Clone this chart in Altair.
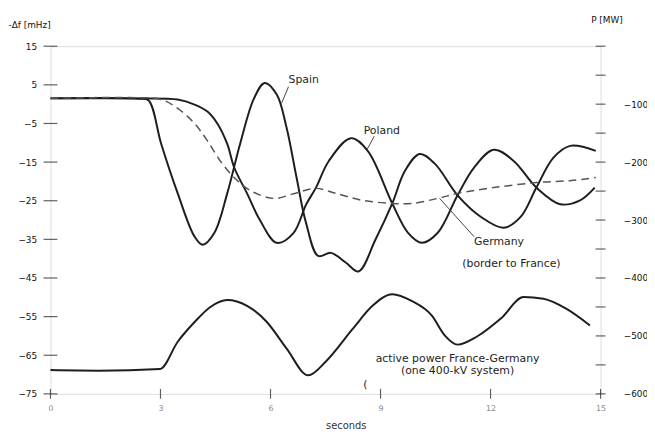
import altair as alt
import pandas as pd

# ---- data ----
spain_t = [0, 1.32, 2.4, 2.67, 3.02, 3.47, 3.93, 4.15, 4.47, 4.82, 5.17, 5.55, 5.84, 6.17, 6.44, 6.71, 6.97,
           7.3, 7.65, 8.05, 8.4, 8.86, 9.32, 9.67, 10.07, 10.48, 11.1, 11.74, 12.36, 12.82, 13.25, 13.71, 14.17, 14.87]
spain_f = [1.5, 1.6, 1.4, 1.0, -10.3, -23.1, -34.3, -36.4, -33.3, -23.1, -10.3, 1.5, 5.5, 2.5, -6.2, -19, -30.8,
           -39.3, -38.5, -41, -43.3, -35.1, -25.7, -17.2, -12.9, -15.4, -23.6, -29.2, -32, -29.2, -21.6, -13.9, -10.8, -12.1]

poland_t = [0, 2.4, 3.47, 3.93, 4.28, 4.55, 4.82, 5.01, 5.36, 5.71, 6.17, 6.63, 6.97, 7.24, 7.59, 8.19, 8.65,
            9.32, 9.75, 10.13, 10.56, 11.1, 11.55, 12.09, 12.63, 13.25, 13.9, 14.44, 14.84]
poland_f = [1.5, 1.5, 1.2, -0.1, -1.9, -5, -10.3, -16.4, -23.1, -30, -35.9, -33.3, -26, -21.6, -14.7, -8.8, -12.1,
            -25.7, -33.3, -35.9, -33.3, -23.6, -16.4, -11.8, -14.7, -21.6, -25.9, -24.9, -21.6]

germany_t = [0, 2.13, 3.02, 3.47, 3.93, 4.28, 4.63, 5.01, 5.44, 6.09, 6.63, 7.24, 7.78, 8.51, 9.32, 9.86,
             10.56, 11.1, 12.09, 13.25, 14.17, 14.87]
germany_f = [1.5, 1.7, 1.2, -1.1, -5, -9.5, -14.7, -19, -22.3, -24.4, -23.2, -21.8, -23.1, -24.9, -25.7, -25.7,
             -24.4, -23.1, -21.6, -20.3, -19.8, -19]

power_t = [0, 1.32, 2.99, 3.47, 3.93, 4.36, 4.82, 5.36, 5.9, 6.44, 7.03, 7.51, 8.24, 8.78, 9.32, 9.86, 10.4,
           10.75, 11.1, 11.63, 12.28, 12.9, 13.44, 14.06, 14.71]
power_p = [-559, -560, -557, -510, -476, -450, -438, -448, -476, -522, -568, -544, -488, -448, -428, -440, -465,
           -499, -515, -501, -470, -433, -436, -453, -482]

x_ticks = [0, 3, 6, 9, 12, 15]
left_ticks = [15, 5, -5, -15, -25, -35, -45, -55, -65, -75]
right_labels = [-100, -200, -300, -400, -500, -600]
right_ticks = [0, -50, -100, -150, -200, -250, -300, -350, -400, -450, -500, -550, -600]

label_text = ["Spain", "Poland", "Germany", "(border to France)"]
label_t = [6.49, 8.54, 11.55, 11.23]
label_f = [6.3, -7.0, -35.6, -41.5]

center_text = ["active power France-Germany", "(one 400-kV system)", "("]
center_t = [11.1, 11.1, 8.59]
center_f = [-66.0, -69.1, -72.7]

leader_t1 = [6.49, 8.83, 10.61]
leader_f1 = [4.5, -8.3, -24.4]
leader_t2 = [6.30, 8.64, 11.55]
leader_f2 = [0.2, -11.6, -34.3]

# ---- tables ----
solid_df = pd.concat([
    pd.DataFrame({"t": spain_t, "f": spain_f, "series": "Spain"}),
    pd.DataFrame({"t": poland_t, "f": poland_f, "series": "Poland"}),
])
germany_df = pd.DataFrame({"t": germany_t, "f": germany_f})
power_df = pd.DataFrame({"t": power_t, "f": power_p})
lt_df = pd.DataFrame({"f": left_ticks})
xt_df = pd.DataFrame({"t": x_ticks})
rt_df = pd.DataFrame({"f": right_ticks})
lab_df = pd.DataFrame({"t": label_t, "f": label_f, "txt": label_text})
cen_df = pd.DataFrame({"t": center_t, "f": center_f, "txt": center_text})
lead_df = pd.DataFrame({"t": leader_t1, "f": leader_f1, "t2": leader_t2, "f2": leader_f2})

FONT = "DejaVu Sans"
INK = "#1e1e1e"
CURVE = "catmull-rom"

x_scale = alt.Scale(domain=[0, 15], nice=False, zero=False)
yl_scale = alt.Scale(domain=[-75, 15], nice=False, zero=False)
yr_scale = alt.Scale(domain=[-600, 0], nice=False, zero=False)

x_axis = alt.Axis(values=x_ticks, title="seconds", grid=False, ticks=False, domain=False,
                  labelOverlap=False, labelFlush=False,
                  labelColor="#8a8a8a", labelFont=FONT, labelFontSize=8, labelPadding=11,
                  titleFont=FONT, titleFontSize=10, titleFontWeight="normal", titleColor="#333",
                  titleX=299, titleY=32, titleAlign="center", titleBaseline="middle")
yl_axis = alt.Axis(values=left_ticks, title="-Δf [mHz]", grid=False, ticks=False, domain=False,
                   labelOverlap=False, labelFlush=False,
                   labelColor="#111", labelFont=FONT, labelFontSize=9, labelPadding=14,
                   titleFont=FONT, titleFontSize=9, titleFontWeight="normal", titleColor="#111",
                   titleAngle=0, titleX=-43, titleY=-22, titleAlign="left", titleBaseline="middle")
yr_axis = alt.Axis(values=right_labels, orient="right", title="P [MW]", grid=False, ticks=False,
                   domain=False, labelOverlap=False, labelFlush=False,
                   labelColor="#111", labelFont=FONT, labelFontSize=9, labelPadding=23,
                   titleFont=FONT, titleFontSize=9, titleFontWeight="normal", titleColor="#111",
                   titleAngle=0, titleX=-10, titleY=-27, titleAlign="left", titleBaseline="middle")

X = lambda f="t:Q": alt.X(f, scale=x_scale, axis=x_axis)
YL = lambda f="f:Q": alt.Y(f, scale=yl_scale, axis=yl_axis)
YR = lambda f="f:Q": alt.Y(f, scale=yr_scale, axis=yr_axis)

solid = alt.Chart(solid_df).mark_line(color=INK, strokeWidth=2, interpolate=CURVE).encode(
    x=X(), y=YL(), detail="series:N")
dashed = alt.Chart(germany_df).mark_line(color="#555", strokeWidth=1.5, strokeDash=[8, 5],
                                         interpolate=CURVE).encode(x=X(), y=YL())
lticks = alt.Chart(lt_df).mark_tick(orient="horizontal", size=14, thickness=1.2, color=INK).encode(
    x=alt.XDatum(0, scale=x_scale, axis=x_axis), y=YL())
xticks = alt.Chart(xt_df).mark_tick(orient="vertical", size=10, thickness=1.2, color=INK).encode(
    x=X(), y=alt.YDatum(-75, scale=yl_scale, axis=yl_axis))
leaders = alt.Chart(lead_df).mark_rule(color="#444", strokeWidth=1).encode(
    x=X(), y=YL(), x2="t2:Q", y2="f2:Q")
labels = alt.Chart(lab_df).mark_text(align="left", baseline="middle", font=FONT, fontSize=11,
                                     color=INK).encode(x=X(), y=YL(), text="txt:N")
centers = alt.Chart(cen_df).mark_text(align="center", baseline="middle", font=FONT, fontSize=11,
                                      color=INK).encode(x=X(), y=YL(), text="txt:N")

power = alt.Chart(power_df).mark_line(color=INK, strokeWidth=2, interpolate="monotone").encode(
    x=X(), y=YR())
rticks = alt.Chart(rt_df).mark_tick(orient="horizontal", size=10, thickness=1.2, color=INK).encode(
    x=alt.XDatum(15, scale=x_scale, axis=x_axis), y=YR())

left_group = alt.layer(solid, dashed, lticks, xticks, leaders, labels, centers)
right_group = alt.layer(power, rticks)

chart = alt.layer(left_group, right_group).resolve_scale(y="independent").properties(
    width=557, height=352,
    padding={"left": 43, "top": 36, "right": 47, "bottom": 43},
    autosize=alt.AutoSizeParams(type="none"),
).configure_view(stroke=INK, strokeWidth=1.5).configure(background="white")

chart.save("out.html", embed_options={"renderer": "svg", "actions": False})
